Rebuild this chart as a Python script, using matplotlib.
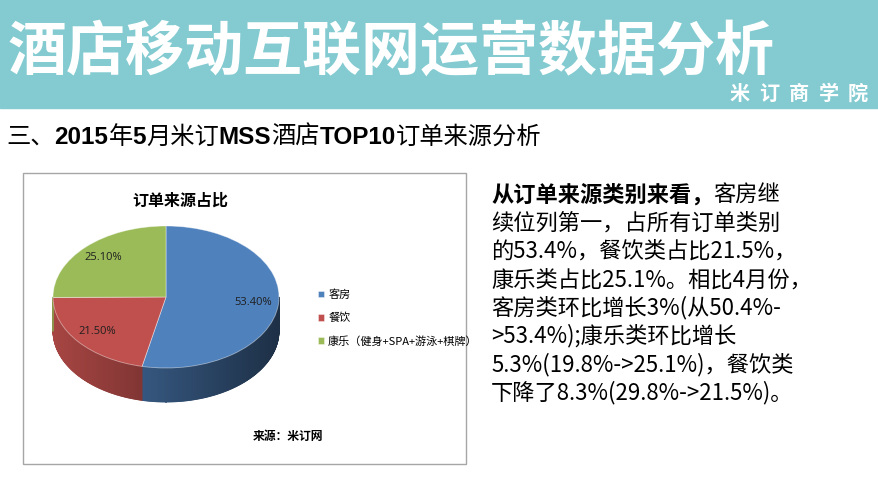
import numpy as np
import matplotlib
matplotlib.use("Agg")
import matplotlib.pyplot as plt
from matplotlib.patches import Rectangle, Polygon
from matplotlib.offsetbox import TextArea, HPacker, AnchoredOffsetbox

plt.rcParams['font.family'] = ['Noto Sans CJK SC', 'DejaVu Sans']

# Data
categories = ['客房', '餐饮', '康乐（健身+SPA+游泳+棋牌）']
shares = [53.4, 21.5, 25.1]
colors = ['#4F81BD', '#C0504D', '#9BBB59']

page_title = '酒店移动互联网运营数据分析'
brand = '米订商学院'
chart_title = '订单来源占比'
source_note = '来源：米订网'

# heading pieces: (text, is_latin_bold)
heading_parts = [('三、', False), ('2015', True), ('年', False), ('5', True),
                 ('月米订', False), ('MSS', True), ('酒店', False), ('TOP10', True),
                 ('订单来源分析', False)]

para_bold = '从订单来源类别来看，'
para_lines = ['客房继',
              '续位列第一，占所有订单类别',
              '的53.4%，餐饮类占比21.5%，',
              '康乐类占比25.1%。相比4月份，',
              '客房类环比增长3%(从50.4%-',
              '>53.4%);康乐类环比增长',
              '5.3%(19.8%->25.1%)，餐饮类',
              '下降了8.3%(29.8%->21.5%)。']

W, H = 879, 495
fig = plt.figure(figsize=(W / 100, H / 100), dpi=100)
bg = fig.add_axes([0, 0, 1, 1])
bg.set_xlim(0, W)
bg.set_ylim(H, 0)
bg.axis('off')

# banner
bg.add_patch(Rectangle((0, 0), W, 108, color='#83CBD1', zorder=0))
bg.text(8, 53, page_title, fontsize=42.5, fontweight='heavy', color='white',
        ha='left', va='center')
for i, ch in enumerate(brand):
    bg.text(740 + i * 29.5, 93, ch, fontsize=14.5, fontweight='bold', color='white',
            ha='center', va='center')

# section heading
parts = []
for txt, latin in heading_parts:
    if latin:
        props = dict(fontsize=17.5, fontweight='bold', family=['Liberation Sans'], color='black')
    else:
        props = dict(fontsize=17.5, family=['Noto Sans CJK SC'], color='black')
    parts.append(TextArea(txt, textprops=props))
box = HPacker(children=parts, align='baseline', pad=0, sep=0)
fig.add_artist(AnchoredOffsetbox(loc='center left', child=box, pad=0, borderpad=0,
                                 frameon=False, bbox_to_anchor=(6, 137),
                                 bbox_transform=bg.transData))

# chart frame
bg.add_patch(Rectangle((23, 173), 443, 291, facecolor='white', edgecolor='#A6A6A6',
                       lw=1, zorder=1))
bg.text(180, 201, chart_title, fontsize=11.5, fontweight='bold', ha='center',
        va='center', zorder=3)
bg.text(288, 436, source_note, fontsize=8.5, fontweight='bold', ha='center',
        va='center', zorder=3)

# 3D-looking pie: ellipse center (166, 297), radii 113 x 71, depth 34 px
cx, cy, rx, ry, depth = 166, 297, 113, 71, 34
d = depth / ry
m = 0.1
left = (cx - (1 + m) * rx) / W
width = 2 * (1 + m) * rx / W
top_px = cy - (1 + m) * ry
bot_px = cy + (1 + d + m) * ry
ax = fig.add_axes([left, 1 - bot_px / H, width, (bot_px - top_px) / H])
ax.set_zorder(2)
wedges, _, autotexts = ax.pie(shares, colors=colors, startangle=90, counterclock=False,
                              autopct='%.2f%%', pctdistance=0.78,
                              wedgeprops=dict(edgecolor=(1, 1, 1, 0.45), linewidth=0.6, zorder=3),
                              textprops=dict(fontsize=8, color='#1F1F1F', family=['Open Sans']))
for t in autotexts:
    t.set_zorder(4)
ax.set_aspect('auto')
ax.set_xlim(-1 - m, 1 + m)
ax.set_ylim(-1 - d - m, 1 + m)
ax.axis('off')

# side walls
for w, c in zip(wedges, colors):
    base = np.array(matplotlib.colors.to_rgb(c))
    angs = np.linspace(w.theta1, w.theta2, int(abs(w.theta2 - w.theta1)) * 2 + 2)
    for a, b in zip(angs[:-1], angs[1:]):
        mid = np.radians((a + b) / 2)
        if np.sin(mid) >= 0:
            continue
        ra, rb = np.radians(a), np.radians(b)
        pts = [(np.cos(ra), np.sin(ra)), (np.cos(rb), np.sin(rb)),
               (np.cos(rb), np.sin(rb) - d), (np.cos(ra), np.sin(ra) - d)]
        f = np.clip(0.62 - 0.25 * np.cos(mid), 0.3, 0.9)
        shade = base * f
        ax.add_patch(Polygon(pts, closed=True, facecolor=shade, edgecolor=shade,
                             lw=0.6, zorder=1))

fig.legend(wedges, categories, loc='center left',
           bbox_to_anchor=(312 / W, 1 - 318 / H), frameon=False,
           prop=dict(family=['Noto Sans CJK SC'], size=8),
           handlelength=0.55, handleheight=0.55, handletextpad=0.4,
           labelspacing=1.15, borderpad=0)

# right paragraph
x0, y0, lh = 491, 195, 28.2
first = HPacker(children=[
    TextArea(para_bold, textprops=dict(fontsize=16, fontweight='bold', color='black')),
    TextArea(para_lines[0], textprops=dict(fontsize=16, color='black'))],
    align='baseline', pad=0, sep=0)
fig.add_artist(AnchoredOffsetbox(loc='center left', child=first, pad=0, borderpad=0,
                                 frameon=False, bbox_to_anchor=(x0, y0),
                                 bbox_transform=bg.transData))
for i, line in enumerate(para_lines[1:], start=1):
    bg.text(x0, y0 + i * lh, line, fontsize=16, color='black', ha='left', va='center')

fig.savefig('out.png', dpi=100)
